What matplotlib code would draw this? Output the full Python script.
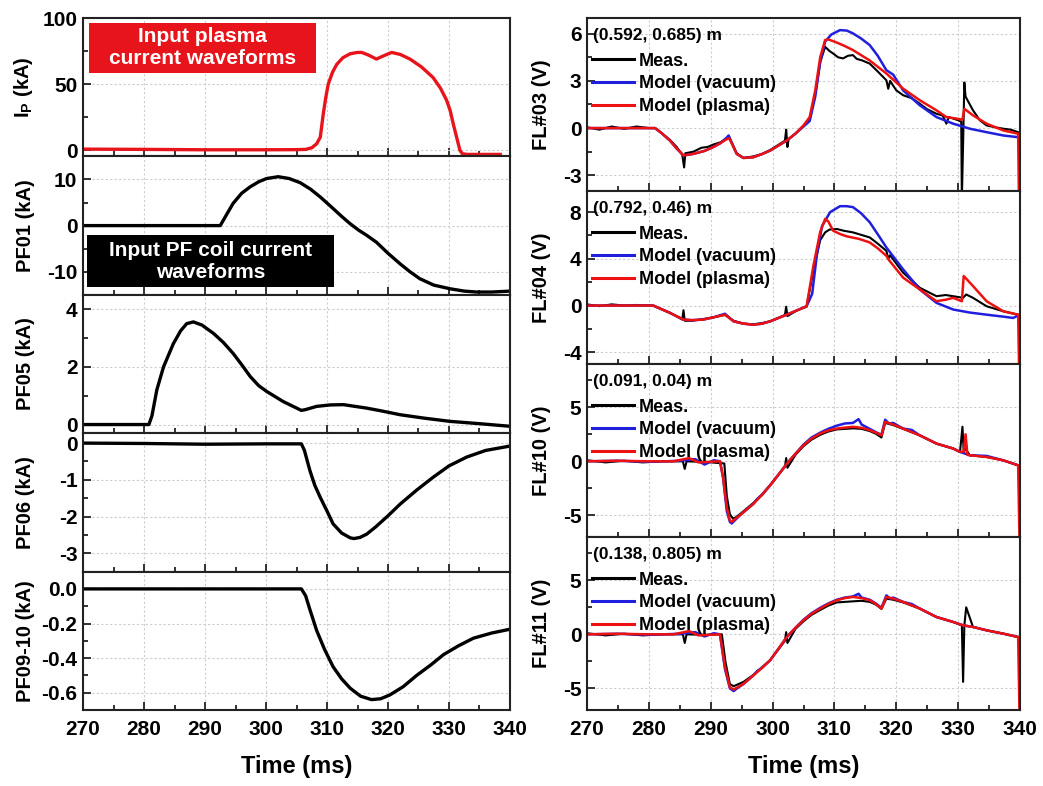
import matplotlib
matplotlib.use('Agg')
import matplotlib.pyplot as plt
from matplotlib.patches import Rectangle
from matplotlib.ticker import MultipleLocator, FormatStrFormatter

plt.rcParams['font.family'] = ['Liberation Sans', 'DejaVu Sans']
plt.rcParams['font.weight'] = 'bold'
plt.rcParams['axes.labelweight'] = 'bold'
plt.rcParams['axes.unicode_minus'] = False
plt.rcParams['mathtext.fontset'] = 'custom'
plt.rcParams['mathtext.bf'] = 'Liberation Sans:bold'
plt.rcParams['mathtext.rm'] = 'Liberation Sans:bold'

# ---------------- input waveforms (left column) ----------------
ip_t = [270, 280, 290, 300, 305, 306.5, 307.5, 308.3, 308.9, 309.4, 309.8, 310.2, 310.9, 311.6, 312.6,
        313.8, 315.0, 315.7, 316.8, 318.1, 319.3, 320.6, 322.0, 323.6, 325.5, 327.4, 328.6, 329.6,
        330.2, 330.7, 331.3, 331.8, 332.2, 333.0, 338.4]
ip_v = [1.0, 0.8, 0.5, 0.5, 0.6, 0.8, 2, 5, 10, 28, 40, 50, 59, 65, 70,
        73, 74, 74, 72, 69, 71.5, 74, 72.5, 69, 63, 55, 47, 38,
        30, 20, 9, 0, -2.5, -3, -3]

pf01_t = [270, 285.5, 292.5, 293.5, 294.6, 296.0, 297.4, 298.8, 300.1, 302.0, 303.8, 305.6, 307.3,
          308.9, 311.0, 312.4, 313.8, 315.2, 316.5, 318.1, 320.0, 322.0, 323.6, 325.2, 327.5, 330.2,
          332.5, 334.5, 337.0, 340]
pf01_v = [0, 0, 0, 2.3, 4.8, 7.0, 8.4, 9.5, 10.2, 10.6, 10.2, 9.3, 7.9,
          6.2, 3.7, 2.0, 0.4, -1.0, -2.1, -3.6, -6.0, -8.3, -10.0, -11.5, -12.9, -13.7,
          -14.2, -14.4, -14.4, -14.2]

pf05_t = [270, 280.8, 281.3, 282.1, 283.2, 284.8, 286.0, 287.0, 288.1, 289.5, 291.4, 293.0, 294.6,
          296.0, 297.4, 298.8, 300.1, 302.8, 305.8, 306.5, 308.3, 310.5, 312.7, 316.5, 319.0, 322.0,
          326.0, 330.2, 335.0, 340]
pf05_v = [0, 0, 0.3, 1.2, 2.0, 2.8, 3.25, 3.5, 3.56, 3.45, 3.16, 2.85, 2.47,
          2.08, 1.67, 1.35, 1.15, 0.8, 0.49, 0.52, 0.63, 0.68, 0.69, 0.57, 0.47, 0.34,
          0.22, 0.11, 0.03, -0.06]

pf06_t = [270, 280, 290, 300, 305.8, 306.3, 307.2, 308.0, 308.9, 310.0, 311.0, 312.4, 313.8, 314.4,
          315.4, 316.5, 318.0, 320.0, 322.0, 324.7, 327.4, 330.0, 332.9, 336.0, 340]
pf06_v = [0, -0.01, -0.03, -0.02, -0.02, -0.2, -0.75, -1.15, -1.48, -1.85, -2.2, -2.45, -2.58, -2.6,
          -2.57, -2.48, -2.28, -1.98, -1.66, -1.28, -0.93, -0.62, -0.38, -0.2, -0.08]

pf0910_t = [270, 285, 290, 300, 305.8, 306.5, 307.2, 308.3, 309.6, 311.0, 312.4, 313.8, 315.5, 317.3,
            318.8, 320.3, 322.5, 324.7, 327.0, 329.1, 331.5, 334.0, 337.0, 340]
pf0910_v = [0, 0, 0, 0, 0, -0.04, -0.12, -0.24, -0.35, -0.45, -0.52, -0.574, -0.62, -0.64,
            -0.635, -0.613, -0.565, -0.50, -0.44, -0.38, -0.33, -0.285, -0.255, -0.233]

# ---------------- flux loop signals (right column) ----------------
# FL#03
fl03_meas_t = [270, 272, 274, 276, 278, 280, 281, 282, 283.4, 284.5, 285.4, 285.7, 285.9, 287.2, 288.5,
               289.5, 290.4, 291.6, 292.6, 293.0, 294.2, 295.3, 296.9, 298.3, 299.6, 301.0, 302.0,
               302.2, 302.4, 302.6, 303.7, 305.0, 306.0, 306.9, 307.7, 308.5, 309.2, 309.8, 310.6,
               311.4, 312.2, 313.0, 313.6, 314.5, 315.7, 317.0, 318.4, 318.7, 319.0, 320.0, 321.1,
               322.5, 323.8, 325.0, 326.5, 327.5, 328.1, 328.5, 330.0, 330.5, 330.6, 330.8, 331.0,
               331.2, 332.4, 333.5, 334.6, 336.0, 337.3, 338.5, 339.7]
fl03_meas = [0.05, -0.1, 0.1, -0.05, 0.1, 0.0, 0.0, -0.3, -0.75, -1.2, -1.7, -2.5, -1.6, -1.5, -1.25,
             -1.2, -1.05, -0.9, -0.65, -0.6, -1.6, -1.9, -1.8, -1.65, -1.4, -1.05, -0.8,
             -0.1, -1.2, -0.7, -0.35, 0.15, 0.6, 2.2, 4.2, 5.17, 4.9, 4.74, 4.5,
             4.43, 4.6, 4.64, 4.4, 4.3, 4.1, 3.6, 3.04, 2.5, 3.0, 2.4, 2.09,
             1.9, 1.55, 1.2, 0.91, 0.8, 0.28, 0.7, 0.5, 0.4, -4.5, -1.0, 2.9,
             2.0, 1.13, 0.5, 0.17, 0.05, -0.04, -0.1, -0.26]
fl03_vac_t = [270, 281, 282, 283.4, 284.5, 285.6, 287.2, 289.0, 290.4, 291.6, 292.6, 292.9, 294.2,
              295.3, 296.9, 298.3, 299.6, 301.0, 302.3, 303.7, 305.0, 306.0, 306.9, 307.7, 308.5,
              309.5, 310.9, 312.0, 313.0, 314.3, 315.7, 317.0, 318.4, 319.5, 321.1, 323.8, 326.5,
              329.2, 331.9, 334.6, 337.3, 339.5]
fl03_vac = [0, 0, -0.3, -0.79, -1.3, -1.74, -1.64, -1.45, -1.21, -0.95, -0.6, -0.47, -1.64,
            -1.9, -1.85, -1.65, -1.43, -1.1, -0.79, -0.35, 0.1, 0.45, 2.0, 4.2, 5.5,
            5.95, 6.23, 6.2, 6.02, 5.7, 5.28, 4.6, 3.68, 3.4, 2.4, 1.45, 0.70,
            0.28, -0.04, -0.26, -0.47, -0.57]
fl03_pla_t = [270, 281, 282, 283.4, 284.5, 285.6, 287.2, 289.0, 290.4, 291.6, 292.6, 293.0, 294.2,
              295.3, 296.9, 298.3, 299.6, 301.0, 302.3, 303.7, 305.0, 306.0, 306.9, 307.7, 308.5,
              309.0, 310.0, 311.5, 313.0, 315.7, 318.4, 321.1, 323.8, 326.5, 328.1, 329.8, 330.7,
              331.0, 332.4, 334.6, 337.3, 339.7, 340]
fl03_pla = [0, 0, -0.3, -0.79, -1.3, -1.74, -1.64, -1.45, -1.21, -0.95, -0.7, -0.65, -1.64,
            -1.9, -1.85, -1.65, -1.43, -1.1, -0.79, -0.35, 0.17, 0.7, 2.4, 4.5, 5.6,
            5.64, 5.5, 5.25, 4.96, 4.3, 3.47, 2.51, 1.77, 1.13, 0.70, 0.6, 0.53,
            1.23, 0.81, 0.28, -0.15, -0.36, -10]

# FL#04
fl04_meas_t = [270, 272, 274, 276, 278, 280.7, 282, 283.4, 285.4, 285.6, 285.8, 287, 288.8, 290.5,
               292.3, 293.7, 295.3, 296.9, 298.3, 299.6, 301, 302.0, 302.2, 302.4, 304, 305.5,
               306.6, 307.7, 308.5, 309.2, 310.4, 311.5, 313.0, 314.0, 315.7, 317.0, 318.4, 318.7,
               319.0, 321.1, 323.8, 326.5, 328.0, 329.2, 330.8, 331.3, 332.4, 334.6, 337.3, 339.7]
fl04_meas = [0.1, -0.05, 0.1, 0.0, 0.05, 0.0, -0.3, -0.6, -1.2, -0.4, -1.3, -1.3, -1.15, -1.0,
             -0.8, -1.3, -1.55, -1.6, -1.5, -1.35, -1.05, -0.8, -0.1, -0.9, -0.4, -0.1,
             3.0, 5.6, 6.26, 6.5, 6.55, 6.4, 6.26, 6.1, 5.83, 5.3, 4.68, 4.0,
             4.3, 2.82, 1.52, 0.8, 0.9, 0.8, 0.66, 0.95, 0.66, -0.06, -0.49, -0.78]
fl04_vac_t = [270, 280.7, 282, 283.4, 285.6, 287, 288.8, 290.5, 292.3, 293.7, 295.3, 296.9, 298.3,
              299.6, 301, 302.3, 304, 305.5, 306.4, 307.2, 308.0, 309.3, 310.9, 312.0, 313.0,
              314.3, 315.7, 317.0, 318.4, 321.1, 323.8, 326.5, 329.2, 331.9, 334.6, 337.3, 338.9, 339.5]
fl04_vac = [0, 0, -0.3, -0.63, -1.2, -1.25, -1.2, -1.0, -0.7, -1.35, -1.55, -1.64, -1.55,
            -1.35, -1.05, -0.78, -0.4, -0.06, 1.0, 4.5, 6.8, 7.99, 8.5, 8.5, 8.42,
            7.9, 7.13, 6.1, 4.97, 3.1, 1.38, 0.23, -0.34, -0.6, -0.78, -0.95, -1.06, -0.9]
fl04_pla_t = [270, 280.7, 282, 283.4, 285.6, 287, 288.8, 290.5, 292.3, 293.7, 295.3, 296.9, 298.3,
              299.6, 301, 302.3, 304, 305.5, 306.6, 307.7, 308.5, 309.0, 309.8, 311.0, 312.0,
              314.0, 315.7, 317.0, 318.4, 318.8, 321.1, 323.8, 326.5, 328.0, 329.2, 330.6, 330.9,
              332.4, 334.6, 337.3, 339.7, 340]
fl04_pla = [0, 0, -0.3, -0.63, -1.2, -1.25, -1.2, -1.0, -0.78, -1.35, -1.55, -1.64, -1.55,
            -1.35, -1.05, -0.78, -0.4, -0.06, 3.4, 6.3, 7.41, 7.2, 6.4, 6.1, 5.92,
            5.7, 5.4, 4.9, 4.25, 3.9, 2.39, 1.38, 0.37, 0.5, 0.66, 0.37, 2.53,
            1.67, 0.37, -0.49, -0.78, -10]

# FL#10
fl10_meas_t = [270, 273, 276, 279, 282, 285.5, 285.8, 286.1, 289, 292.2, 292.6, 293.1, 293.6, 294.0,
               294.7, 296.9, 298.3, 299.6, 301, 302.0, 302.2, 302.4, 303.7, 305.0, 306.3, 307.7,
               309.0, 310.4, 311.7, 313.0, 314.4, 315.7, 316.7, 317.6, 318.2, 319.5, 321.1, 323.8,
               326.5, 329.2, 330.3, 330.7, 330.9, 331.1, 331.9, 334.6, 337.3, 339.7]
fl10_meas = [0.1, -0.1, 0.05, -0.1, 0.0, 0.0, -0.7, 0.0, -0.05, -0.2, -3.2, -4.9, -5.3, -5.2,
             -4.9, -3.85, -3.05, -2.2, -1.2, -0.5, 0.3, -0.6, 0.6, 1.4, 2.0, 2.45,
             2.75, 2.95, 3.0, 3.05, 3.0, 2.8, 2.55, 2.2, 3.55, 3.35, 3.0, 2.4,
             1.64, 1.18, 0.87, 3.2, 0.8, 1.2, 0.56, 0.4, 0.09, -0.37]
fl10_vac_t = [270, 275, 280, 285, 287.5, 289.0, 290.5, 291.5, 292.0, 292.6, 293.1, 293.4, 294.0,
              294.7, 296.9, 297.5, 298.3, 299.6, 301, 302.3, 303.7, 305.0, 306.3, 307.7, 309.0,
              310.4, 311.7, 313.0, 313.9, 314.4, 315.7, 316.7, 317.6, 318.2, 318.8, 319.5, 321.1,
              322.5, 323.8, 326.5, 329.2, 330.3, 331.9, 334.6, 337.3, 339.7]
fl10_vac = [0, 0.05, -0.05, 0.05, 0.2, -0.3, 0.1, 0.0, -1.5, -4.6, -5.6, -5.75, -5.4,
            -5.0, -3.93, -3.5, -3.1, -2.23, -1.2, -0.22, 0.7, 1.55, 2.2, 2.65, 3.0,
            3.3, 3.5, 3.55, 3.9, 3.4, 3.0, 2.7, 2.45, 3.85, 3.5, 3.55, 3.03,
            2.9, 2.4, 1.64, 1.18, 0.87, 0.56, 0.5, 0.09, -0.37]
fl10_pla_t = [270, 275, 280, 284, 286.5, 288, 291.5, 292.0, 292.6, 293.1, 293.4, 294.0, 294.7, 296.9,
              298.3, 299.6, 301, 302.3, 303.7, 305.0, 306.3, 307.7, 309.0, 310.4, 311.7, 313.0,
              314.4, 315.7, 316.7, 317.6, 318.2, 319.5, 321.1, 323.8, 326.5, 329.2, 330.3, 330.9,
              331.2, 331.5, 331.9, 334.6, 337.3, 339.7, 340]
fl10_pla = [0, 0.05, 0.0, 0.0, 0.3, -0.1, 0.0, -1.5, -4.24, -5.48, -5.6, -5.3, -5.0, -3.93,
            -3.1, -2.23, -1.2, -0.22, 0.7, 1.49, 2.1, 2.57, 2.85, 3.03, 3.12, 3.19,
            3.1, 2.88, 2.65, 2.4, 3.65, 3.4, 3.03, 2.4, 1.64, 1.18, 0.87, 0.9,
            2.5, 0.6, 0.56, 0.4, 0.09, -0.37, -10]

# FL#11
fl11_meas_t = [270, 273, 276, 279, 282, 285.5, 285.8, 286.1, 289, 291.8, 292.4, 293.1, 293.7, 294.5,
               295.3, 296.9, 298.3, 299.6, 301, 302.0, 302.2, 302.4, 303.7, 305.0, 306.3, 307.7,
               309.0, 310.4, 311.7, 313.0, 314.4, 315.7, 316.7, 317.6, 318.4, 319.5, 321.1, 323.8,
               326.5, 329.2, 330.6, 330.8, 331.0, 331.3, 332.4, 334.6, 337.3, 339.7]
fl11_meas = [0.1, -0.1, 0.05, -0.1, 0.0, 0.0, -0.8, 0.0, -0.05, 0.0, -2.6, -4.6, -4.8, -4.6,
             -4.4, -3.75, -3.05, -2.4, -1.35, -0.6, 0.2, -0.8, 0.5, 1.2, 1.8, 2.25,
             2.65, 2.95, 3.0, 3.05, 3.1, 3.0, 2.75, 2.35, 3.3, 3.2, 2.95, 2.38,
             1.6, 1.14, 0.83, -4.4, 0.8, 2.5, 0.68, 0.37, 0.06, -0.25]
fl11_vac_t = [270, 275, 280, 285, 287.5, 289.0, 290.5, 291.5, 292.3, 293.1, 293.7, 294.5, 295.3,
              296.9, 297.5, 298.3, 299.6, 301, 302.3, 303.7, 305.0, 306.3, 307.7, 309.0, 310.4,
              311.7, 313.0, 313.9, 314.4, 315.7, 316.7, 317.6, 318.4, 319.0, 319.5, 321.1, 322.5,
              323.8, 326.5, 329.2, 330.8, 332.4, 334.6, 336.0, 337.3, 339.7]
fl11_vac = [0, 0.05, -0.05, 0.05, 0.2, -0.2, 0.1, 0.0, -3.2, -5.0, -5.25, -4.9, -4.6,
            -3.8, -3.4, -3.1, -2.4, -1.3, -0.25, 0.6, 1.35, 1.95, 2.45, 2.85, 3.2,
            3.4, 3.5, 3.75, 3.4, 3.2, 2.85, 2.45, 3.6, 3.3, 3.4, 3.0, 2.8,
            2.38, 1.6, 1.14, 0.83, 0.68, 0.37, 0.2, 0.06, -0.25]
fl11_pla_t = [270, 275, 280, 284, 286.5, 288, 291.5, 292.3, 293.1, 293.7, 294.5, 295.3, 296.9, 298.3,
              299.6, 301, 302.3, 303.7, 305.0, 306.3, 307.7, 309.0, 310.4, 311.7, 313.0, 314.4,
              315.7, 316.7, 317.6, 318.4, 319.5, 321.1, 323.8, 326.5, 329.2, 330.8, 332.4, 334.6,
              337.3, 339.7, 340]
fl11_pla = [0, 0.05, 0.0, 0.0, 0.3, -0.1, 0.0, -3.0, -4.9, -5.1, -4.85, -4.57, -3.8, -3.1,
            -2.4, -1.3, -0.25, 0.6, 1.3, 1.9, 2.38, 2.8, 3.15, 3.35, 3.46, 3.35,
            3.15, 2.8, 2.38, 3.46, 3.3, 3.0, 2.38, 1.6, 1.14, 0.83, 0.68, 0.37,
            0.06, -0.25, -10]

fl_positions = ['(0.592, 0.685) m', '(0.792, 0.46) m', '(0.091, 0.04) m', '(0.138, 0.805) m']


def style_axis(ax, ymajor, yminor, show_x):
    ax.set_xlim(270, 340)
    ax.xaxis.set_major_locator(MultipleLocator(10))
    ax.xaxis.set_minor_locator(MultipleLocator(5))
    ax.yaxis.set_major_locator(MultipleLocator(ymajor))
    ax.yaxis.set_minor_locator(MultipleLocator(yminor))
    ax.tick_params(which='both', direction='in', width=1.3, labelsize=15, color='#222222')
    ax.tick_params(which='major', length=6)
    ax.tick_params(which='minor', length=3.5)
    ax.tick_params(axis='x', labelbottom=show_x, pad=7)
    ax.tick_params(axis='y', pad=4)
    ax.grid(True, which='major', linestyle=(0, (2, 2)), color='#cccccc', linewidth=0.8)
    ax.set_axisbelow(True)
    for sp in ax.spines.values():
        sp.set_linewidth(1.5)
        sp.set_color('#222222')


def label_box(ax, x0, x1, y0, y1, text, color):
    # filled caption box in axes fraction, text centred inside
    ax.add_patch(Rectangle((x0, y0), x1 - x0, y1 - y0, transform=ax.transAxes,
                           facecolor=color, edgecolor='none', zorder=5))
    ax.text((x0 + x1) / 2, (y0 + y1) / 2, text, transform=ax.transAxes, ha='center', va='center',
            color='white', fontsize=15, fontweight='bold', linespacing=1.2, zorder=6)


fig = plt.figure(figsize=(10.43, 7.86), dpi=100)

W, H = 1043.0, 786.0
top, bottom = 18, 710

# left column: 5 input waveforms, stacked from the top
lx0, lx1 = 83, 510
lh = (bottom - top) / 5.0
left_data = [(ip_t, ip_v, '#e8141b', r'I$_\mathbf{P}$ (kA)', (-4.5, 100), 50, 25),
             (pf01_t, pf01_v, 'black', 'PF01 (kA)', (-15, 15), 10, 5),
             (pf05_t, pf05_v, 'black', 'PF05 (kA)', (-0.3, 4.5), 2, 1),
             (pf06_t, pf06_v, 'black', 'PF06 (kA)', (-3.5, 0.27), 1, 0.5),
             (pf0910_t, pf0910_v, 'black', 'PF09-10 (kA)', (-0.7, 0.1), 0.2, 0.1)]
left_axes = []
for i, (t, v, c, lab, ylim, ymaj, ymin) in enumerate(left_data):
    y_low = top + (i + 1) * lh
    ax = fig.add_axes([lx0 / W, 1 - y_low / H, (lx1 - lx0) / W, lh / H])
    ax.plot(t, v, color=c, linewidth=2.4, solid_joinstyle='round')
    ax.set_ylim(*ylim)
    style_axis(ax, ymaj, ymin, i == 4)
    ax.set_ylabel(lab, fontsize=14.5)
    ax.yaxis.set_label_coords(-0.113, 0.5)
    left_axes.append(ax)
left_axes[4].yaxis.set_major_formatter(FormatStrFormatter('%.1f'))
left_axes[4].set_xlabel('Time (ms)', fontsize=17, labelpad=12)

label_box(left_axes[0], 0.014, 0.546, 0.603, 0.964, 'Input plasma\ncurrent waveforms', '#e8141b')
label_box(left_axes[1], 0.009, 0.588, 0.056, 0.432, 'Input PF coil current\nwaveforms', 'black')

# right column: 4 flux loops, measured vs model
rx0, rx1 = 587, 1020
rh = (bottom - top) / 4.0
right_data = [(fl03_meas_t, fl03_meas, fl03_vac_t, fl03_vac, fl03_pla_t, fl03_pla, 'FL#03 (V)', (-4, 7), 3, 1.5),
              (fl04_meas_t, fl04_meas, fl04_vac_t, fl04_vac, fl04_pla_t, fl04_pla, 'FL#04 (V)', (-5, 9.8), 4, 2),
              (fl10_meas_t, fl10_meas, fl10_vac_t, fl10_vac, fl10_pla_t, fl10_pla, 'FL#10 (V)', (-7, 9), 5, 2.5),
              (fl11_meas_t, fl11_meas, fl11_vac_t, fl11_vac, fl11_pla_t, fl11_pla, 'FL#11 (V)', (-7, 9), 5, 2.5)]
right_axes = []
for i, (mt, mv, vt, vv, pt, pv, lab, ylim, ymaj, ymin) in enumerate(right_data):
    y_low = top + (i + 1) * rh
    ax = fig.add_axes([rx0 / W, 1 - y_low / H, (rx1 - rx0) / W, rh / H])
    ax.plot(mt, mv, color='black', linewidth=1.5, label='Meas.')
    ax.plot(vt, vv, color='#1f1fdd', linewidth=1.8, label='Model (vacuum)')
    ax.plot(pt, pv, color='#ee1111', linewidth=1.8, label='Model (plasma)')
    ax.set_ylim(*ylim)
    style_axis(ax, ymaj, ymin, i == 3)
    ax.set_ylabel(lab, fontsize=14.5)
    ax.yaxis.set_label_coords(-0.082, 0.5)
    # loop position (R, Z) above the legend entries
    ax.text(0.013, 0.899, fl_positions[i], transform=ax.transAxes, ha='left', va='center',
            fontsize=12.5, fontweight='bold')
    leg = ax.legend(loc='upper left', bbox_to_anchor=(-0.003, 0.837), frameon=False, fontsize=13,
                    handlelength=2.3, handletextpad=0.3, labelspacing=0.32, borderpad=0.35,
                    borderaxespad=0)
    for line in leg.get_lines():
        line.set_linewidth(2.2)
    right_axes.append(ax)
right_axes[3].set_xlabel('Time (ms)', fontsize=17, labelpad=12)

fig.savefig('out.png', dpi=100)
